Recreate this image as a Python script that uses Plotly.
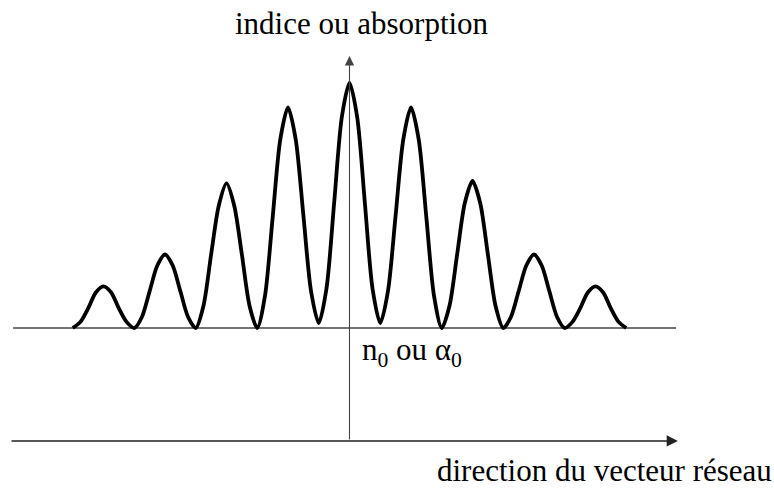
import plotly.graph_objects as go

# position along the grating vector (one period = 1) and index/absorption level
position = [-4.5, -4.375, -4.25, -4.125, -4.0, -3.875, -3.75, -3.625,
            -3.5, -3.375, -3.25, -3.125, -3.0, -2.875, -2.75, -2.625,
            -2.5, -2.375, -2.25, -2.125, -2.0, -1.875, -1.75, -1.625,
            -1.5, -1.375, -1.25, -1.125, -1.0, -0.875, -0.75, -0.625,
            -0.5, -0.375, -0.25, -0.125, 0.0, 0.125, 0.25, 0.375,
            0.5, 0.625, 0.75, 0.875, 1.0, 1.125, 1.25, 1.375,
            1.5, 1.625, 1.75, 1.875, 2.0, 2.125, 2.25, 2.375,
            2.5, 2.625, 2.75, 2.875, 3.0, 3.125, 3.25, 3.375,
            3.5, 3.625, 3.75, 3.875, 4.0, 4.125, 4.25, 4.375, 4.5]
level = [0, 2.5, 8, 14.5, 17, 14.5, 8, 2.5,
         0, 4.5, 15, 25.5, 30, 25.5, 15, 4.5,
         0, 9, 30, 50, 59, 50, 30, 9,
         0, 13, 45, 77, 90, 77, 46, 15,
         2, 16, 51, 86, 100, 86, 51, 16,
         2, 15, 46, 77, 90, 77, 45, 13,
         0, 9, 30, 51, 60, 51, 30, 9,
         0, 4.5, 15, 25.5, 30, 25.5, 15, 4.5,
         0, 2.5, 8, 14.5, 17, 14.5, 8, 2.5, 0]

y_label = "indice ou absorption"
x_label = "direction du vecteur réseau"
base_label = "n<sub>0</sub> ou α<sub>0</sub>"

font = dict(family="Liberation Serif, Times New Roman, serif", size=31, color="black")

fig = go.Figure()

fig.add_trace(go.Scatter(
    x=position,
    y=level,
    mode="lines",
    line=dict(color="black", width=3.8, shape="spline", smoothing=0.8),
    hoverinfo="skip",
))

# baseline n0 / alpha0
fig.add_shape(type="line", x0=-5.47, x1=5.31, y0=0, y1=0,
              line=dict(color="#444444", width=1.3), layer="below")

# vertical axis with arrow
fig.add_annotation(x=0, y=111, ax=0, ay=-46.1, xref="x", yref="y",
                   axref="x", ayref="y", text="", showarrow=True,
                   arrowhead=2, arrowsize=1.7, arrowwidth=1.1, arrowcolor="#444444")

# horizontal direction arrow
fig.add_annotation(x=5.34, y=-46.1, ax=-5.52, ay=-46.1, xref="x", yref="y",
                   axref="x", ayref="y", text="", showarrow=True,
                   arrowhead=2, arrowsize=1.5, arrowwidth=1.5, arrowcolor="#222222")

fig.add_annotation(x=362 / 774, y=1 - 23 / 490, xref="paper", yref="paper",
                   text=y_label, showarrow=False, font=font,
                   xanchor="center", yanchor="middle")
fig.add_annotation(x=360 / 774, y=1 - 352 / 490, xref="paper", yref="paper",
                   text=base_label, showarrow=False, font=font,
                   xanchor="left", yanchor="middle")
fig.add_annotation(x=1, y=1 - 470 / 490, xref="paper", yref="paper",
                   text=x_label, showarrow=False, font=font,
                   xanchor="right", yanchor="middle")

fig.update_xaxes(visible=False, range=[-349.5 / 61.5, (774 - 349.5) / 61.5])
fig.update_yaxes(visible=False, range=[-(490 - 328) / 2.45, 328 / 2.45])

fig.update_layout(
    width=774,
    height=490,
    margin=dict(l=0, r=0, t=0, b=0),
    plot_bgcolor="white",
    paper_bgcolor="white",
    showlegend=False,
)

# drop the default page margin so the figure sits at the window's corner
fig.write_html("out.html", config={"displayModeBar": False},
               post_script="document.body.style.margin='0';")
